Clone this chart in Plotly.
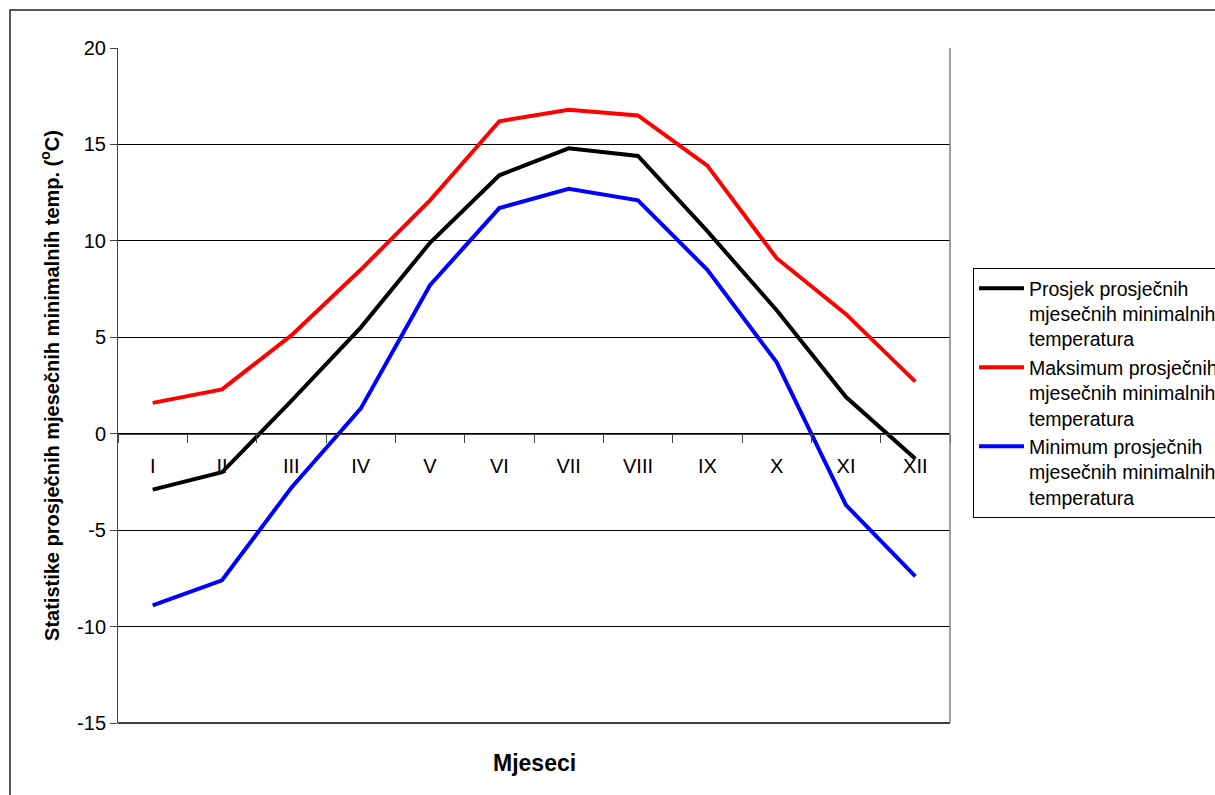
import plotly.graph_objects as go

months = ["I", "II", "III", "IV", "V", "VI", "VII", "VIII", "IX", "X", "XI", "XII"]
prosjek = [-2.9, -2.0, 1.7, 5.5, 9.9, 13.4, 14.8, 14.4, 10.5, 6.4, 1.9, -1.3]
maksimum = [1.6, 2.3, 5.1, 8.5, 12.1, 16.2, 16.8, 16.5, 13.9, 9.1, 6.2, 2.7]
minimum = [-8.9, -7.6, -2.8, 1.3, 7.7, 11.7, 12.7, 12.1, 8.5, 3.7, -3.7, -7.4]
y_ticks = [-15, -10, -5, 0, 5, 10, 15, 20]
y_ticktext = ["-15", "-10", "-5", "0", "5", "10", "15", "20"]
names = [
    "Prosjek prosječnih<br>mjesečnih minimalnih<br>temperatura",
    "Maksimum prosječnih<br>mjesečnih minimalnih<br>temperatura",
    "Minimum prosječnih<br>mjesečnih minimalnih<br>temperatura",
]
colors = ["#000000", "#FF0000", "#0000FF"]
y_min, y_max = -15, 20

FONT = "Liberation Sans, Arial, sans-serif"

fig = go.Figure()
for vals, name, col in zip([prosjek, maksimum, minimum], names, colors):
    fig.add_trace(go.Scatter(x=months, y=vals, mode="lines", name=name,
                             line=dict(color=col, width=4)))

W, H = 1215, 795
L, R, T, B = 118, 265, 48, 72
pw, ph = W - L - R, H - T - B

def px_x(x):
    return (x - L) / pw

def px_y(y):
    return 1 - (y - T) / ph

fig.update_layout(
    width=W, height=H,
    margin=dict(l=L, r=R, t=T, b=B, autoexpand=False),
    paper_bgcolor="white", plot_bgcolor="white",
    font=dict(family=FONT, color="black", size=20),
    showlegend=True,
    legend=dict(x=px_x(973), y=px_y(268), xanchor="left", yanchor="top",
                bordercolor="black", borderwidth=1, bgcolor="white",
                font=dict(size=19.5, family=FONT), valign="top",
                itemwidth=45, tracegroupgap=0),
    xaxis=dict(type="category", range=[-0.5, 11.5], tickson="boundaries",
               ticks="outside", ticklen=8, tickcolor="#444", tickwidth=1,
               showline=True, linecolor="#444", linewidth=1,
               showgrid=False, zeroline=False,
               anchor="free", position=(0 - y_min) / (y_max - y_min),
               ticklabelstandoff=14,
               tickfont=dict(size=20, family=FONT)),
    yaxis=dict(range=[y_min, y_max], tickvals=y_ticks, ticktext=y_ticktext,
               ticks="outside", ticklen=7,
               tickcolor="#444", showline=True, linecolor="#444", linewidth=1,
               showgrid=True, gridcolor="black", gridwidth=1, zeroline=False,
               tickfont=dict(size=20, family=FONT),
               title=dict(text="<b>Statistike prosječnih mjesečnih minimalnih temp. (<sup>o</sup>C)</b>",
                          font=dict(size=20, family=FONT), standoff=12)),
)

# plot-area frame (right and bottom edges)
fig.add_shape(type="line", xref="paper", yref="paper", x0=0, x1=1, y0=0, y1=0,
              line=dict(color="black", width=1.5))
fig.add_shape(type="line", xref="paper", yref="paper", x0=1, x1=1, y0=0, y1=1,
              line=dict(color="#808080", width=1.5))
# outer chart border
fig.add_shape(type="rect", xref="paper", yref="paper",
              x0=px_x(10), x1=px_x(1300), y0=px_y(900), y1=px_y(10),
              line=dict(color="#222", width=1.5), layer="below")

fig.add_annotation(text="<b>Mjeseci</b>", xref="paper", yref="paper",
                   x=0.5, y=px_y(763), showarrow=False,
                   font=dict(size=23, family=FONT), yanchor="middle")

fig.write_html("out.html")
